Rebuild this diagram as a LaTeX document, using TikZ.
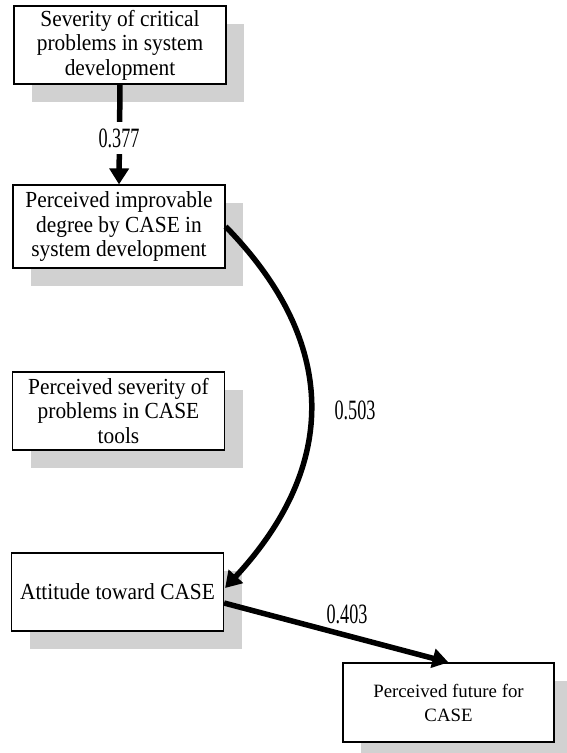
\documentclass[tikz,border=0pt]{standalone}
\usepackage{fontspec}
\setmainfont{Liberation Serif}
\newfontfamily\labfont[FakeStretch=0.65]{Liberation Serif}
\newfontfamily\boxfont[FakeStretch=0.93]{Liberation Serif}
\usetikzlibrary{arrows.meta,shadows,calc}
\tikzset{
  varbox/.style={draw=black, line width=1.2pt, fill=white, inner sep=0pt,
    minimum width=212pt, minimum height=78pt, align=center,
    font=\boxfont\fontsize{23}{24.5}\selectfont,
    drop shadow={shadow xshift=18pt, shadow yshift=-18pt, opacity=1, fill=gray!36, draw=none}},
  smallbox/.style={varbox, font=\fontsize{18.8}{24}\selectfont},
  arr/.style={line width=5.5pt, -{Triangle[length=16pt,width=19pt]}},
  lab/.style={font=\labfont\fontsize{28}{30}\selectfont, inner sep=0pt}
}
\begin{document}
\begin{tikzpicture}[x=1pt,y=-1pt]
\useasboundingbox (0,0) rectangle (566,753);
\node[varbox] (b1) at (120,45) {Severity of critical\\problems in system\\development};
\node[varbox, minimum height=83pt] (b2) at (119,226.5) {Perceived improvable\\degree by CASE in\\system development};
\node[varbox] (b3) at (118.5,411) {Perceived severity of\\problems in CASE\\tools};
\node[varbox] (b4) at (117.5,592) {Attitude toward CASE};
\node[smallbox, minimum width=211pt, minimum height=79pt] (b5) at (448.5,702.5) {Perceived future for\\CASE};

\draw[arr] (b1.south) -- (b2.north);
\node[lab, fill=white, inner ysep=6pt, inner xsep=2pt] (l1) at (119,138) {0.377};

\draw[arr] (b2.east) .. controls ($(b2.east)+(113,115.5)$) and ($(b4.east)+(115,-127)$) .. ($(b4.east)+(1,-4)$);
\node[lab] (l2) at (355,410) {0.503};

\draw[arr] ($(b4.east)+(0,11)$) -- (b5.north);
\node[lab] (l3) at (347,614) {0.403};
\end{tikzpicture}
\end{document}
